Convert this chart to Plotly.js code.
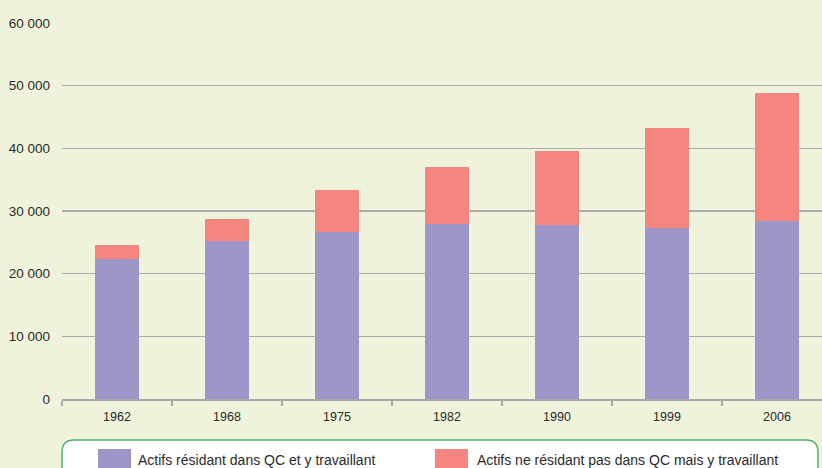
<!DOCTYPE html>
<html>
<head>
<meta charset="utf-8">
<script src="https://cdn.plot.ly/plotly-3.0.1.min.js"></script>
<style>html,body{margin:0;padding:0;background:#f0f3dc;}#chart{width:822px;height:468px;}</style>
</head>
<body>
<div id="chart"></div>
<script>
var years = ["1962", "1968", "1975", "1982", "1990", "1999", "2006"];
var residents = [22300, 25200, 26700, 28000, 27800, 27350, 28400];
var nonResidents = [2250, 3500, 6650, 9050, 11800, 15950, 20500];
var seriesNames = ["Actifs résidant dans QC et y travaillant", "Actifs ne résidant pas dans QC mais y travaillant"];
var seriesColors = ["#9d97c9", "#f5857f"];
var yTickVals = [0, 10000, 20000, 30000, 40000, 50000, 60000];
var yTickText = ["0", "10 000", "20 000", "30 000", "40 000", "50 000", "60 000"];

var W = 822, H = 468;
var M = {l: 62, r: 0, t: 23, b: 69};
var PW = W - M.l - M.r, PH = H - M.t - M.b;
function px(x) { return (x - M.l) / PW; }
function py(y) { return (H - M.b - y) / PH; }

var FONT = "'Liberation Sans', Arial, sans-serif";
var TXT = "#2a2a2a";

var traces = [
  {type: "bar", x: years, y: residents, name: seriesNames[0], marker: {color: seriesColors[0]}, hoverinfo: "x+y"},
  {type: "bar", x: years, y: nonResidents, name: seriesNames[1], marker: {color: seriesColors[1]}, hoverinfo: "x+y"}
];

// rounded legend box
var bx0 = 62, bx1 = 818, by0 = 440, by1 = 490, r = 12;
var boxPath = "M " + px(bx0) + "," + py(by1) +
  " L " + px(bx0) + "," + py(by0 + r) +
  " Q " + px(bx0) + "," + py(by0) + " " + px(bx0 + r) + "," + py(by0) +
  " L " + px(bx1 - r) + "," + py(by0) +
  " Q " + px(bx1) + "," + py(by0) + " " + px(bx1) + "," + py(by0 + r) +
  " L " + px(bx1) + "," + py(by1) + " Z";

var shapes = [
  {type: "path", xref: "paper", yref: "paper", path: boxPath, fillcolor: "#ffffff", line: {color: "#4cb56f", width: 1.5}},
  {type: "rect", xref: "paper", yref: "paper", x0: px(98), x1: px(131), y0: py(449), y1: py(472), fillcolor: seriesColors[0], line: {width: 0}},
  {type: "rect", xref: "paper", yref: "paper", x0: px(435), x1: px(468), y0: py(449), y1: py(472), fillcolor: seriesColors[1], line: {width: 0}}
];

var annotations = [
  {xref: "paper", yref: "paper", x: px(136), y: py(460), xanchor: "left", yanchor: "middle", text: seriesNames[0], showarrow: false, font: {family: FONT, size: 14, color: TXT}},
  {xref: "paper", yref: "paper", x: px(475), y: py(460), xanchor: "left", yanchor: "middle", text: seriesNames[1], showarrow: false, font: {family: FONT, size: 14, color: TXT}}
];

var layout = {
  width: W, height: H,
  margin: M,
  paper_bgcolor: "#f0f3dc",
  plot_bgcolor: "#f0f3dc",
  barmode: "stack",
  bargap: 0.6,
  showlegend: false,
  font: {family: FONT, size: 13, color: TXT},
  xaxis: {
    type: "category",
    range: [-0.5, 6.5 - 10 / 110],
    tickson: "boundaries",
    ticks: "outside",
    ticklen: 5,
    tickcolor: "#a8a8a8",
    tickwidth: 1.5,
    showline: true,
    linecolor: "#a8a8a8",
    linewidth: 1.5,
    showgrid: false,
    tickfont: {family: FONT, size: 12.5, color: TXT},
    ticklabelstandoff: 5
  },
  yaxis: {
    range: [0, 60000],
    tickvals: yTickVals,
    ticktext: yTickText,
    showgrid: true,
    gridcolor: "#ababab",
    gridwidth: 1.5,
    zeroline: false,
    showline: false,
    ticks: "",
    tickfont: {family: FONT, size: 13.5, color: TXT},
    ticklabelstandoff: 11
  },
  shapes: shapes,
  annotations: annotations
};

Plotly.newPlot("chart", traces, layout, {displayModeBar: false, staticPlot: true});
</script>
</body>
</html>
